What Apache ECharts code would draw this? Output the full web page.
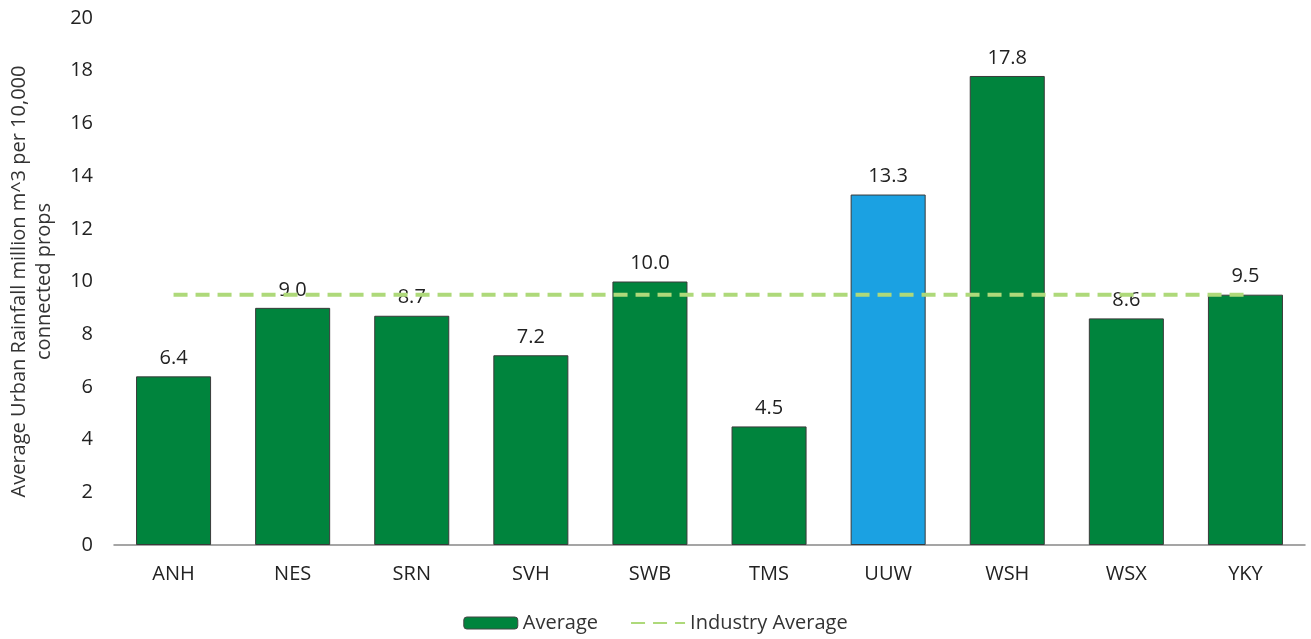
<!DOCTYPE html>
<html>
<head>
<meta charset="utf-8">
<script src="https://cdn.jsdelivr.net/npm/echarts@6/dist/echarts.min.js"></script>
<style>
  html, body { margin: 0; padding: 0; background: #fff; }
  #chart { width: 1311px; height: 639px; }
</style>
</head>
<body>
<div id="chart"></div>
<script>
// chart data
var categories = ["ANH", "NES", "SRN", "SVH", "SWB", "TMS", "UUW", "WSH", "WSX", "YKY"];
var averageValues = [6.4, 9.0, 8.7, 7.2, 10.0, 4.5, 13.3, 17.8, 8.6, 9.5];
var industryAverage = [9.5, 9.5, 9.5, 9.5, 9.5, 9.5, 9.5, 9.5, 9.5, 9.5];
var highlighted = "UUW";

var font = "'Open Sans', sans-serif";
var myChart = echarts.init(document.getElementById("chart"));

var option = {
  backgroundColor: "#fff",
  textStyle: { fontFamily: font },
  grid: {
    left: 114,
    right: 6,
    top: 18,
    bottom: 94,
    outerBoundsMode: "none"
  },
  legend: {
    bottom: 1,
    left: "center",
    itemGap: 32,
    itemWidth: 54,
    itemHeight: 12,
    textStyle: { fontSize: 20, color: "#333", fontFamily: font },
    data: [
      { name: "Average", itemStyle: { color: "#00843D", borderColor: "#444", borderWidth: 1 } },
      { name: "Industry Average", itemStyle: { opacity: 0 } }
    ]
  },
  xAxis: {
    type: "category",
    data: categories,
    axisLine: { lineStyle: { color: "#888", width: 1.5 } },
    axisTick: { show: false },
    axisLabel: { fontSize: 20, color: "#222", margin: 19, fontFamily: font }
  },
  yAxis: {
    type: "value",
    min: 0,
    max: 20,
    interval: 2,
    name: "Average Urban Rainfall million m^3 per 10,000\nconnected props",
    nameLocation: "middle",
    nameGap: 57,
    nameTextStyle: { fontSize: 20, color: "#333", lineHeight: 25, fontFamily: font },
    splitLine: { show: false },
    axisLine: { show: false },
    axisTick: { show: false },
    axisLabel: { fontSize: 20, color: "#222", margin: 21, fontFamily: font }
  },
  series: [
    {
      name: "Average",
      type: "bar",
      barCategoryGap: "37%",
      data: averageValues.map(function (v, i) {
        return {
          value: v,
          itemStyle: { color: categories[i] === highlighted ? "#1BA1E2" : "#00843D" }
        };
      }),
      itemStyle: { borderColor: "#3a3a3a", borderWidth: 1 },
      label: {
        show: true,
        position: "top",
        distance: 8,
        fontSize: 20,
        color: "#222",
        fontFamily: font,
        formatter: function (p) { return p.value.toFixed(1); }
      },
      z: 2
    },
    {
      name: "Industry Average",
      type: "line",
      data: industryAverage,
      symbol: "none",
      itemStyle: { color: "#AED97A" },
      lineStyle: { color: "#AED97A", width: 4, type: [14, 8] },
      z: 3
    }
  ]
};

myChart.setOption(option);
window.addEventListener("resize", function () { myChart.resize(); });
</script>
</body>
</html>
